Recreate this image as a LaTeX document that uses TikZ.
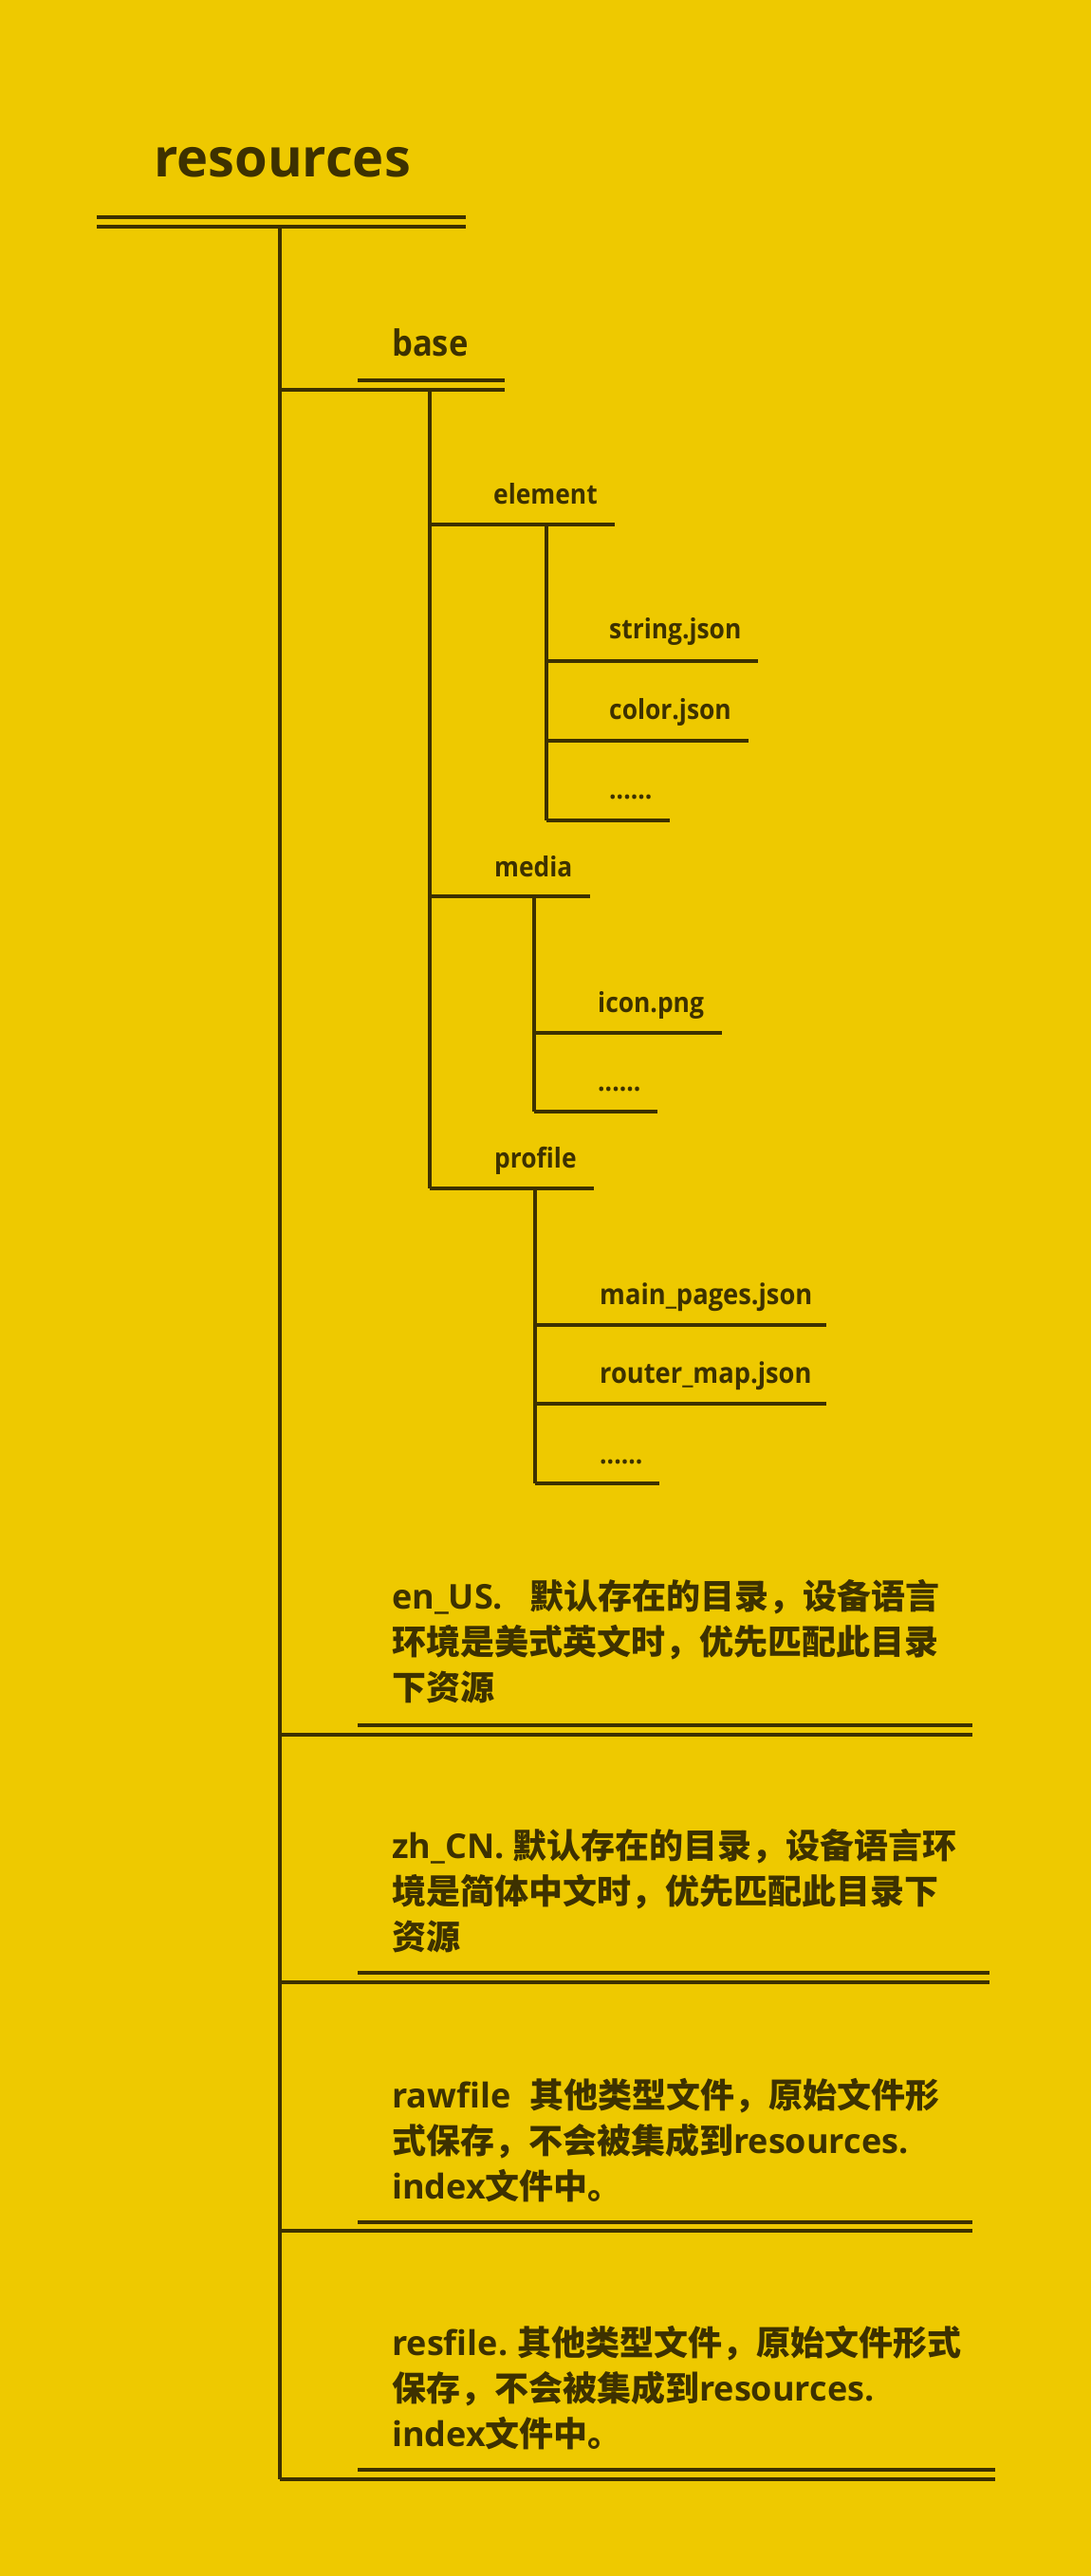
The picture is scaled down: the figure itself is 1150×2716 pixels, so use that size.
\documentclass[tikz,border=0pt]{standalone}
\usepackage{fontspec}
\newfontfamily\lblfont{Open Sans}[FakeStretch=0.91]
\newfontfamily\osans{Open Sans}
\newfontfamily\cjk{Noto Sans CJK SC}
\newcommand\lat[1]{{\osans\bfseries #1}}
\definecolor{bg}{HTML}{EEC900}
\definecolor{ink}{HTML}{3D3100}
\begin{document}
\begin{tikzpicture}[x=1pt,y=-1pt,
  rule/.style={draw=ink,line width=4pt},
  lbl/.style={inner sep=0pt,anchor=base west,text=ink,font=\lblfont\bfseries\fontsize{29}{36}\selectfont},
  lblwide/.style={lbl,font=\lblfont\bfseries\fontsize{30}{36}\selectfont},
  lblbig/.style={lbl,font=\osans\bfseries\fontsize{56}{68}\selectfont},
  lblmid/.style={lbl,font=\lblfont\bfseries\fontsize{38}{46}\selectfont},
  para/.style={inner sep=0pt,anchor=base west,text=ink,font=\cjk\bfseries\fontsize{36}{48}\selectfont}]
\fill[bg] (0,0) rectangle (1150,2716);
\useasboundingbox (0,0) rectangle (1150,2716);

% labels
\node[lblbig] (res) at (162,187) {resources};
\node[lblmid] (base) at (413,375) {base};
\node[lbl] (element) at (520,531) {element};
\node[lbl] (string) at (642,673) {string.json};
\node[lbl] (color) at (642,758) {color.json};
\node[lbl] (edots) at (642,842) {......};
\node[lbl] (media) at (521,924) {media};
\node[lbl] (icon) at (630,1067) {icon.png};
\node[lbl] (mdots) at (630,1150) {......};
\node[lbl] (profile) at (521,1231) {profile};
\node[lblwide] (mainp) at (632,1375) {main\_pages.json};
\node[lblwide] (router) at (632,1458) {router\_map.json};
\node[lbl] (pdots) at (632,1543) {......};

\node[para] (enus) at (413,1696) {\parbox[t]{700pt}{\raggedright
  \makebox[145pt][l]{\lat{en\_US.}}默认存在的目录，设备语言\\
  环境是美式英文时，优先匹配此目录\\
  下资源}};
\node[para] (zhcn) at (413,1959) {\parbox[t]{700pt}{\raggedright
  \makebox[127pt][l]{\lat{zh\_CN.}}默认存在的目录，设备语言环\\
  境是简体中文时，优先匹配此目录下\\
  资源}};
\node[para] (raw) at (413,2222) {\parbox[t]{700pt}{\raggedright
  \makebox[145pt][l]{\lat{rawfile}}其他类型文件，原始文件形\\
  式保存，不会被集成到\lat{resources.}\\
  \lat{index}文件中。}};
\node[para] (resf) at (413,2483) {\parbox[t]{700pt}{\raggedright
  \makebox[132pt][l]{\lat{resfile.}}其他类型文件，原始文件形式\\
  保存，不会被集成到\lat{resources.}\\
  \lat{index}文件中。}};

% coordinates of the tree
\coordinate (t0) at (295,239);
\coordinate (t1) at (295,2614);
\coordinate (b0) at (453,411);
\coordinate (b1) at (453,1253);
\coordinate (e0) at (576,553);
\coordinate (e1) at (576,865);
\coordinate (m0) at (563,945);
\coordinate (m1) at (563,1172);
\coordinate (p0) at (564,1253);
\coordinate (p1) at (564,1564);

% root underline
\draw[rule] (102,229) -- (491,229);
\draw[rule] (102,239) -- (491,239);
\draw[rule] (t0) -- (t1);

% base
\draw[rule] (377,401) -- (532,401);
\draw[rule] (295,411) -- (532,411);
\draw[rule] (b0) -- (b1);

% element
\draw[rule] (453,553) -- (648,553);
\draw[rule] (e0) -- (e1);
\draw[rule] (576,697) -- (799,697);
\draw[rule] (576,781) -- (789,781);
\draw[rule] (576,865) -- (706,865);

% media
\draw[rule] (453,945) -- (622,945);
\draw[rule] (m0) -- (m1);
\draw[rule] (563,1089) -- (761,1089);
\draw[rule] (563,1172) -- (693,1172);

% profile
\draw[rule] (453,1253) -- (626,1253);
\draw[rule] (p0) -- (p1);
\draw[rule] (564,1397) -- (871,1397);
\draw[rule] (564,1480) -- (871,1480);
\draw[rule] (564,1564) -- (695,1564);

% en_US
\draw[rule] (377,1819) -- (1025,1819);
\draw[rule] (295,1829) -- (1025,1829);
% zh_CN
\draw[rule] (377,2080) -- (1043,2080);
\draw[rule] (295,2090) -- (1043,2090);
% rawfile
\draw[rule] (377,2343) -- (1025,2343);
\draw[rule] (295,2352) -- (1025,2352);
% resfile
\draw[rule] (377,2604) -- (1049,2604);
\draw[rule] (295,2614) -- (1049,2614);
\end{tikzpicture}
\end{document}
